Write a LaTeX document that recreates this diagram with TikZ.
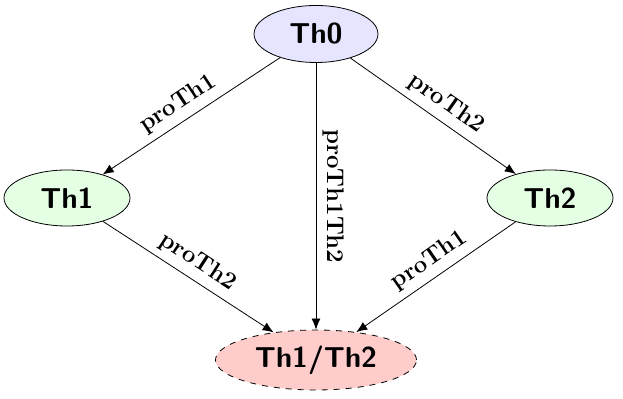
\documentclass[tikz,border=0pt]{standalone}
\usetikzlibrary{shapes.geometric,arrows.meta}
\begin{document}
\begin{tikzpicture}[x=0.5pt,y=-0.5pt,
  thnode/.style={ellipse,draw,inner sep=0pt,font=\Large\sffamily\bfseries},
  edge/.style={-{Latex[length=5.5pt,width=4.5pt]}},
  lbl/.style={font=\large\bfseries,sloped,above}]
\useasboundingbox (0,0) rectangle (623,399);
\node[thnode,fill=blue!10,minimum width=62pt,minimum height=28.5pt] (t0) at (316,34) {Th0};
\node[thnode,fill=green!10,minimum width=63pt,minimum height=28pt] (t1) at (67,198) {Th1};
\node[thnode,fill=green!10,minimum width=63pt,minimum height=28pt] (t2) at (550,198) {Th2};
\node[thnode,fill=red!20,dashed,minimum width=100.5pt,minimum height=30pt] (t12) at (316,360) {Th1/Th2};
\draw[edge] (t0) -- node[lbl,pos=0.52] {proTh1} (t1);
\draw[edge] (t0) -- node[lbl,pos=0.52] {proTh2} (t2);
\draw[edge] (t0) -- node[lbl,midway] {proTh1Th2} (t12);
\draw[edge] (t1) -- node[lbl,midway] {proTh2} (t12);
\draw[edge] (t2) -- node[lbl,pos=0.48] {proTh1} (t12);
\end{tikzpicture}
\end{document}
